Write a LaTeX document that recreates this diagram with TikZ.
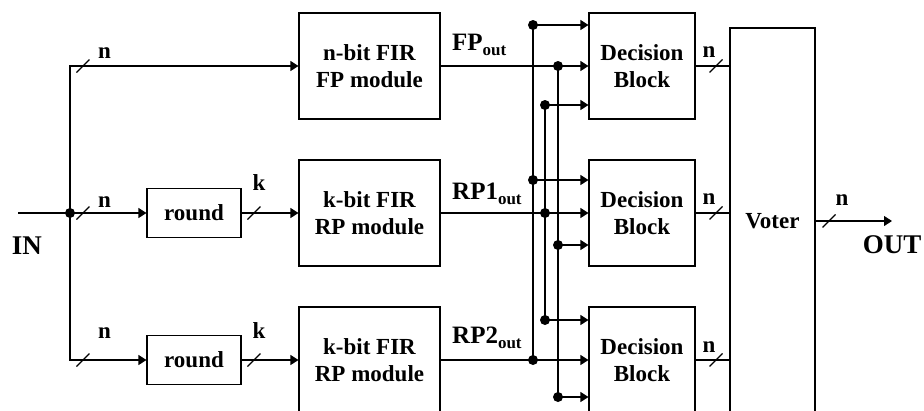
\documentclass[tikz,border=0pt]{standalone}
\usepackage{fontspec}
\setmainfont{Liberation Serif}
\usetikzlibrary{arrows.meta}

% bus-width tick drawn across a wire at the given point
\newcommand\buswidthmark[1]{\draw[wire] (#1) ++(-6.5,6.5) -- ++(13,-13);}
% output label with a lowered "out" subscript
\newcommand\sigout[1]{{\fontsize{25}{25}\selectfont #1}{\fontsize{17}{17}\selectfont\raisebox{-5pt}{out}}}

\begin{document}
\begin{tikzpicture}[x=1pt,y=-1pt,
  every node/.style={font=\fontsize{23}{27}\selectfont\bfseries},
  wire/.style={line width=1.1pt},
  sig/.style={wire,-{Triangle[length=8pt,width=10pt]}},
  box/.style={draw,line width=1.1pt,inner sep=0pt,align=center},
  fir/.style={box,minimum width=141pt,minimum height=106pt},
  dec/.style={box,minimum width=106pt,minimum height=106pt},
  rnd/.style={box,minimum width=94pt,minimum height=49pt},
  lbl/.style={inner sep=0pt,anchor=base},
  big/.style={lbl,font=\fontsize{27}{27}\selectfont\bfseries},
]
\clip (0,0) rectangle (924,410);

% processing blocks
\node[fir] (fp)  at (369.5,66)  {n-bit FIR\\FP module};
\node[fir] (rp1) at (369.5,213) {k-bit FIR\\RP module};
\node[fir] (rp2) at (369.5,360) {k-bit FIR\\RP module};
\node[rnd] (r1) at (194,213) {round};
\node[rnd] (r2) at (194,360) {round};
\node[dec] (d1) at (642,66)  {Decision\\Block};
\node[dec] (d2) at (642,213) {Decision\\Block};
\node[dec] (d3) at (642,360) {Decision\\Block};
\node[box,minimum width=85pt,minimum height=386pt] (voter) at (772.5,221) {Voter};

% input fan-out
\coordinate (inl) at (18,213);
\coordinate (split) at (70,213);
\draw[wire] (inl) -- (split);
\draw[sig] (split) |- (fp.west);
\draw[sig] (split) -- (r1.west);
\draw[sig] (split) |- (r2.west);
\draw[sig] (r1.east) -- (rp1.west);
\draw[sig] (r2.east) -- (rp2.west);
\fill (split) circle (5pt);

% module outputs into the decision blocks
\draw[sig] (fp.east)  -- (d1.west);
\draw[sig] (rp1.east) -- (d2.west);
\draw[sig] (rp2.east) -- (d3.west);

% cross-connection buses
\coordinate (jA0) at (533,360); \coordinate (jA1) at (533,25);  \coordinate (jA2) at (533,180);
\coordinate (jB0) at (545,213); \coordinate (jB1) at (545,105); \coordinate (jB2) at (545,320);
\coordinate (jC0) at (558,66);  \coordinate (jC1) at (558,245); \coordinate (jC2) at (558,397);
\draw[wire] (jA1) -- (jA0);
\draw[wire] (jB1) -- (jB2);
\draw[wire] (jC0) -- (jC2);
\draw[sig] (jA1) -- (jA1 -| d1.west);
\draw[sig] (jA2) -- (jA2 -| d2.west);
\draw[sig] (jB1) -- (jB1 -| d1.west);
\draw[sig] (jB2) -- (jB2 -| d3.west);
\draw[sig] (jC1) -- (jC1 -| d2.west);
\draw[sig] (jC2) -- (jC2 -| d3.west);
\foreach \j in {jA0,jA1,jA2,jB0,jB1,jB2,jC0,jC1,jC2} \fill (\j) circle (5pt);

% decision outputs into the voter
\draw[wire] (d1.east) -- (d1.east -| voter.west);
\draw[wire] (d2.east) -- (d2.east -| voter.west);
\draw[wire] (d3.east) -- (d3.east -| voter.west);
\coordinate (outend) at (892,221);
\draw[sig] (voter.east) -- (outend);

% bus-width ticks
\buswidthmark{83,66}
\buswidthmark{83,213}
\buswidthmark{83,360}
\buswidthmark{254,213}
\buswidthmark{254,360}
\buswidthmark{716,66}
\buswidthmark{716,213}
\buswidthmark{716,360}
\buswidthmark{829,221}

% width labels
\node[lbl] (n1) at (104.5,58)  {n};
\node[lbl] (n2) at (104.5,207) {n};
\node[lbl] (n3) at (104.5,338) {n};
\node[lbl] (k1) at (259,190) {k};
\node[lbl] (k2) at (259,338) {k};
\node[lbl] (n4) at (709,57)  {n};
\node[lbl] (n5) at (709,204) {n};
\node[lbl] (n6) at (709,352) {n};
\node[lbl] (n7) at (842,205) {n};

% signal names
\node[lbl,anchor=base west] (fpo)  at (452,50)  {\sigout{FP}};
\node[lbl,anchor=base west] (rp1o) at (452,199) {\sigout{RP1}};
\node[lbl,anchor=base west] (rp2o) at (452,343) {\sigout{RP2}};
\node[big] (inlbl)  at (27,254)  {IN};
\node[big] (outlbl) at (892,253) {OUT};
\end{tikzpicture}
\end{document}
